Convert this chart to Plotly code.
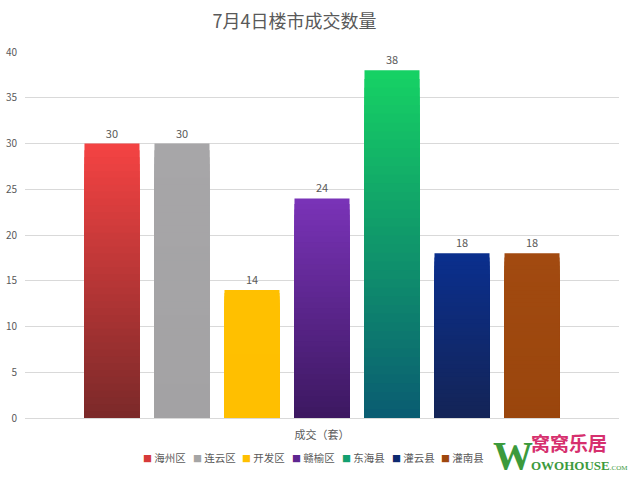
import plotly.graph_objects as go

# ---- data ----
categories = ["成交（套）"]
series_names = ["海州区", "连云区", "开发区", "赣榆区", "东海县", "灌云县", "灌南县"]
series_values = [30, 30, 14, 24, 38, 18, 18]
# top / bottom colours for each series' vertical gradient
top_colors = ["#F54343", "#A7A6A8", "#FFC000", "#7A33B8", "#16D264", "#0A2F8E", "#A24A10"]
bottom_colors = ["#7A2929", "#A3A2A4", "#FFBF00", "#3C1860", "#0A5C72", "#142456", "#9A460D"]
legend_colors = ["#D63A3A", "#A5A5A5", "#FFC000", "#5E2690", "#13A070", "#0D2A70", "#9E480E"]
y_ticks = [0, 5, 10, 15, 20, 25, 30, 35, 40]

N_SEG = 40
W, H = 640, 482
ML, MR, MT, MB = 25, 21, 52, 64
PW = W - ML - MR
PH = H - MT - MB


def hex2rgb(h):
    h = h.lstrip("#")
    return tuple(int(h[i:i + 2], 16) for i in (0, 2, 4))


def mix(c1, c2, t):
    a, b = hex2rgb(c1), hex2rgb(c2)
    return "rgb(%d,%d,%d)" % tuple(round(a[i] + (b[i] - a[i]) * t) for i in range(3))


def px_x(px):
    return (px - ML) / PW


def px_y(py):
    return (H - MB - py) / PH


fig = go.Figure()
for i, (name, val) in enumerate(zip(series_names, series_values)):
    seg = val / N_SEG
    # tallest (top colour) first, shorter ones over it -> seamless gradient
    for k in range(N_SEG - 1, -1, -1):
        t = (k + 0.5) / N_SEG  # 0 bottom -> 1 top
        last = k == N_SEG - 1
        fig.add_trace(go.Bar(
            x=categories,
            y=[seg * (k + 1)],
            name=name,
            offsetgroup=str(i),
            marker=dict(color=mix(bottom_colors[i], top_colors[i], t), line=dict(width=0)),
            showlegend=False,
            hoverinfo="skip",
            text=[str(val)] if last else None,
            textposition="outside" if last else "none",
            textfont=dict(size=11, color="#595959"),
            cliponaxis=False,
        ))

fig.update_layout(
    width=W, height=H,
    barmode="group",
    bargap=0.175,
    bargroupgap=0.214,
    paper_bgcolor="white",
    plot_bgcolor="white",
    margin=dict(l=ML, r=MR, t=MT, b=MB, autoexpand=False),
    font=dict(family="Noto Sans CJK SC, Microsoft YaHei, sans-serif", color="#595959"),
    title=dict(text="7月4日楼市成交数量", x=0.46, xanchor="center", y=0.955, yanchor="middle",
               font=dict(size=18, color="#595959")),
    showlegend=False,
)
fig.update_xaxes(showgrid=False, showline=True, linecolor="#D9D9D9", ticks="",
                 tickfont=dict(size=11, color="#595959"), ticklabelstandoff=7,
                 automargin=False)
fig.update_yaxes(range=[0, 40], tickvals=y_ticks, showgrid=True, gridcolor="#D9D9D9",
                 zeroline=False, showline=False, tickfont=dict(size=10, color="#595959"),
                 ticklabelstandoff=7, automargin=False)

# compact legend drawn as annotations (as in the reference)
leg_x0, leg_step, leg_y = 141, 49.7, 458
for i, name in enumerate(series_names):
    fig.add_annotation(
        text="<span style='color:%s;font-size:9px'>■</span> %s" % (legend_colors[i], name),
        xref="paper", yref="paper", x=px_x(leg_x0 + leg_step * i), y=px_y(leg_y),
        xanchor="left", yanchor="middle", showarrow=False,
        font=dict(size=10.5, color="#595959"))

# watermark logo
fig.add_annotation(text="<b>W</b>", xref="paper", yref="paper", x=px_x(491), y=px_y(455),
                   xanchor="left", yanchor="middle", showarrow=False,
                   font=dict(size=40, color="#3C9A3C", family="Liberation Serif"))
fig.add_annotation(text="<b>窝窝乐居</b>", xref="paper", yref="paper", x=px_x(529), y=px_y(442),
                   xanchor="left", yanchor="middle", showarrow=False,
                   font=dict(size=19, color="#D6306E"))
fig.add_annotation(text="<b>OWOHOUSE</b><span style='font-size:7px'>.COM</span>",
                   xref="paper", yref="paper", x=px_x(529), y=px_y(465),
                   xanchor="left", yanchor="middle", showarrow=False,
                   font=dict(size=13, color="#3C9A3C", family="Liberation Sans Narrow"))

fig.write_html("out.html")
